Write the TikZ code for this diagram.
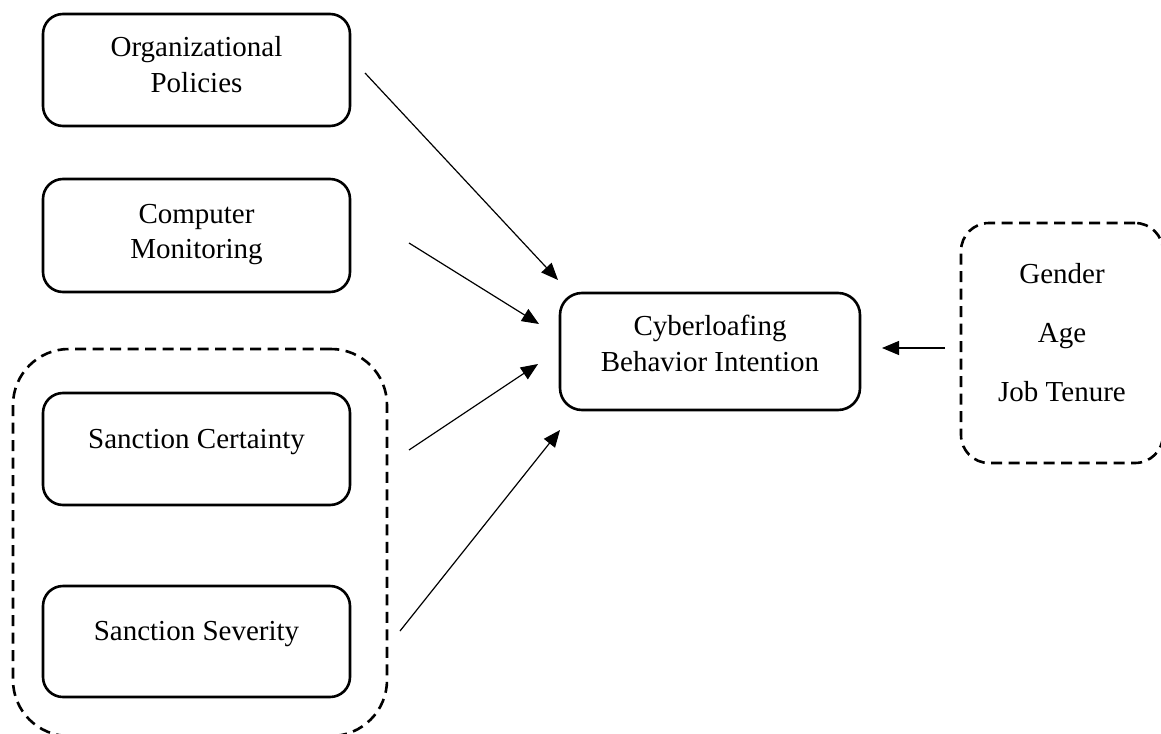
\documentclass[tikz,border=0pt]{standalone}
\usepackage{fontspec}
\setmainfont{Liberation Serif}
\usetikzlibrary{arrows.meta}
\begin{document}
\begin{tikzpicture}[x=1pt,y=-1pt,
  box/.style={draw, line width=2.6pt, rounded corners=20pt, inner sep=0pt},
  grp/.style={draw, line width=2.6pt, dash pattern=on 11pt off 6.5pt, inner sep=0pt},
  lbl/.style={font=\fontsize{29}{36}\selectfont, anchor=base, inner sep=0pt},
  arr/.style={line width=1.2pt, -{Triangle[length=17pt,width=14pt]}}]
\useasboundingbox (0,0) rectangle (1161,733);
% boxes
\node[box, minimum width=307pt, minimum height=112pt] (org) at (196.5,70) {};
\node[box, minimum width=307pt, minimum height=113pt] (mon) at (196.5,235.5) {};
\node[box, minimum width=307pt, minimum height=112pt] (cert) at (196.5,449) {};
\node[box, minimum width=307pt, minimum height=111pt] (sev) at (196.5,641.5) {};
\node[box, rounded corners=22pt, minimum width=300pt, minimum height=117pt] (cyb) at (710,351.5) {};
% dashed groups
\node[grp, rounded corners=56pt, minimum width=374pt, minimum height=387pt] (sanc) at (200,542.5) {};
\node[grp, rounded corners=28pt, minimum width=202pt, minimum height=240pt] (demo) at (1062,343) {};
% texts
\node[lbl] (t1a) at (196.5,57) {Organizational};
\node[lbl] (t1b) at (196.5,93) {Policies};
\node[lbl] (t2a) at (196.5,223) {Computer};
\node[lbl] (t2b) at (196.5,258) {Monitoring};
\node[lbl] (t3) at (196.5,448) {Sanction Certainty};
\node[lbl] (t4) at (196.5,640) {Sanction Severity};
\node[lbl] (t5a) at (710,335) {Cyberloafing};
\node[lbl] (t5b) at (710,371) {Behavior Intention};
\node[lbl] (t6a) at (1062,283) {Gender};
\node[lbl] (t6b) at (1062,342) {Age};
\node[lbl] (t6c) at (1062,401) {Job Tenure};
% connector ends
\coordinate (o1) at (365,73);  \coordinate (o2) at (558,280);
\coordinate (c1) at (409,243); \coordinate (c2) at (539,324);
\coordinate (s1) at (409,450); \coordinate (s2) at (538,364);
\coordinate (v1) at (400,631); \coordinate (v2) at (560,430);
\coordinate (d1) at (945,348); \coordinate (d2) at (882,348);
\draw[arr] (o1) -- (o2);
\draw[arr] (c1) -- (c2);
\draw[arr] (s1) -- (s2);
\draw[arr] (v1) -- (v2);
\draw[arr] (d1) -- (d2);
\end{tikzpicture}
\end{document}
